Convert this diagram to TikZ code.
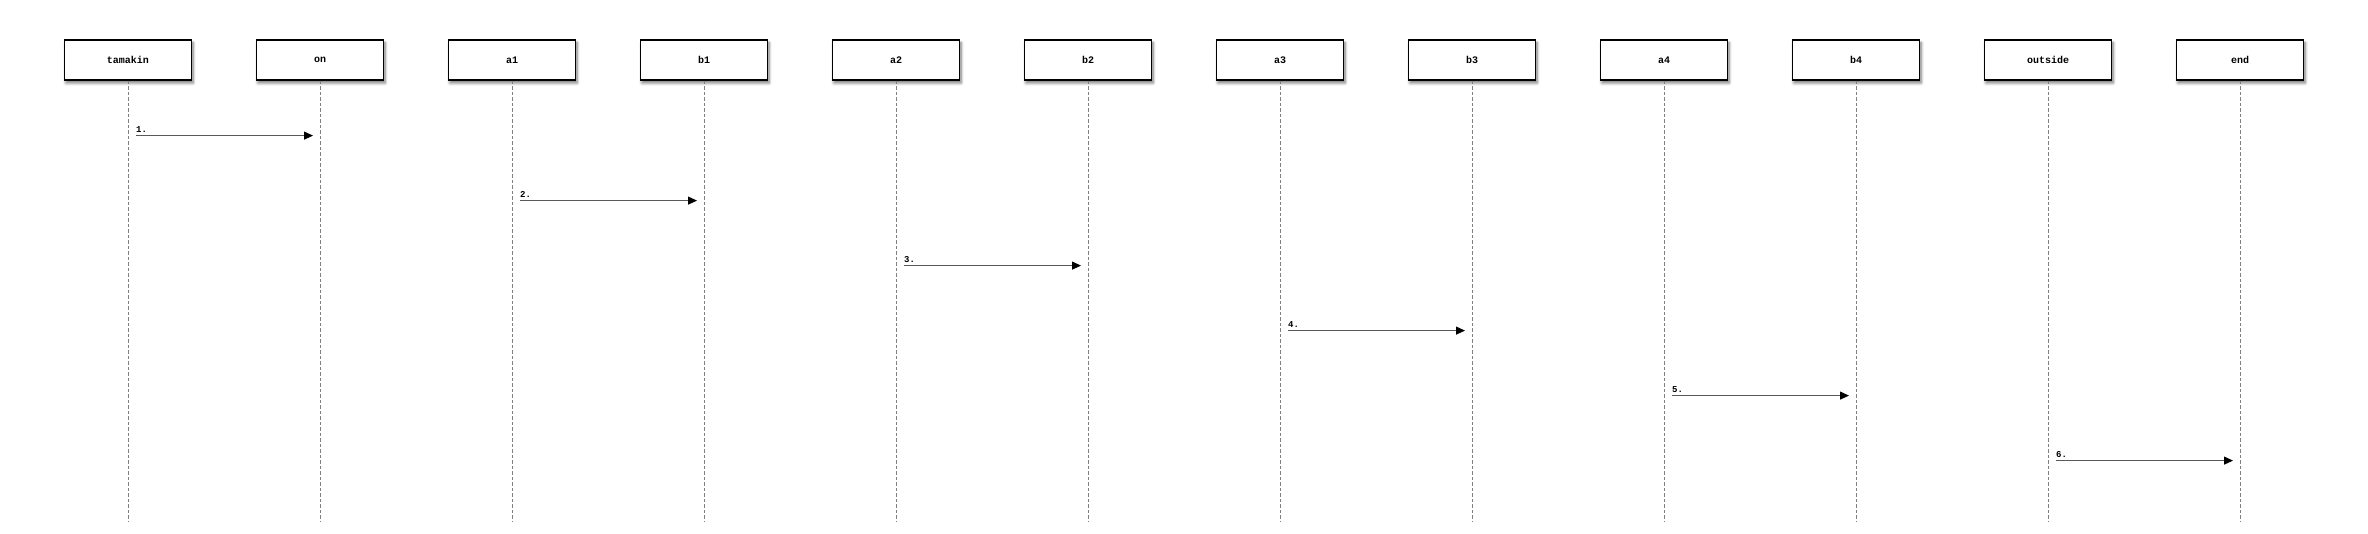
\documentclass[tikz,border=0pt]{standalone}
\usepackage{fontspec}
\setmonofont{Liberation Mono}
\usetikzlibrary{arrows.meta,shadows.blur}

\begin{document}
\begin{tikzpicture}[x=1pt, y=-1pt,
    actor/.style={draw=black, line width=1.2pt, fill=white, minimum width=127pt, minimum height=40pt,
        inner sep=0pt, font=\ttfamily\bfseries\fontsize{10}{12}\selectfont,
        blur shadow={shadow xshift=1.5pt, shadow yshift=-3pt, shadow blur radius=3pt,
            shadow blur steps=6, shadow opacity=55}},
    lifeline/.style={gray, dash pattern=on 3.5pt off 2pt, line width=0.9pt},
    msg/.style={gray!70!black, line width=1pt, -{Triangle[length=9pt, width=8pt, black]}},
    num/.style={anchor=south west, inner sep=0pt, font=\ttfamily\bfseries\fontsize{9}{10}\selectfont}]
    \useasboundingbox (0,0) rectangle (2368,534);

    % participants
    \foreach \name [count=\i from 0] in {tamakin,on,a1,b1,a2,b2,a3,b3,a4,b4,outside,end}{
        \node[actor] (p\i) at (128+192*\i, 60) {\name};
        \draw[lifeline] (p\i.south) -- ++(0,441);
    }

    % messages
    \foreach \k [evaluate=\k as \a using int(2*\k-2), evaluate=\k as \b using int(2*\k-1),
                 evaluate=\k as \dy using 55+65*(\k-1)] in {1,...,6}{
        \path (p\a.south) ++(8,\dy) coordinate (s\k);
        \path (p\b.south) ++(-7,\dy) coordinate (t\k);
        \draw[msg] (s\k) -- (t\k);
        \node[num] (n\k) at ([yshift=3pt]s\k) {\k.};
    }
\end{tikzpicture}
\end{document}
